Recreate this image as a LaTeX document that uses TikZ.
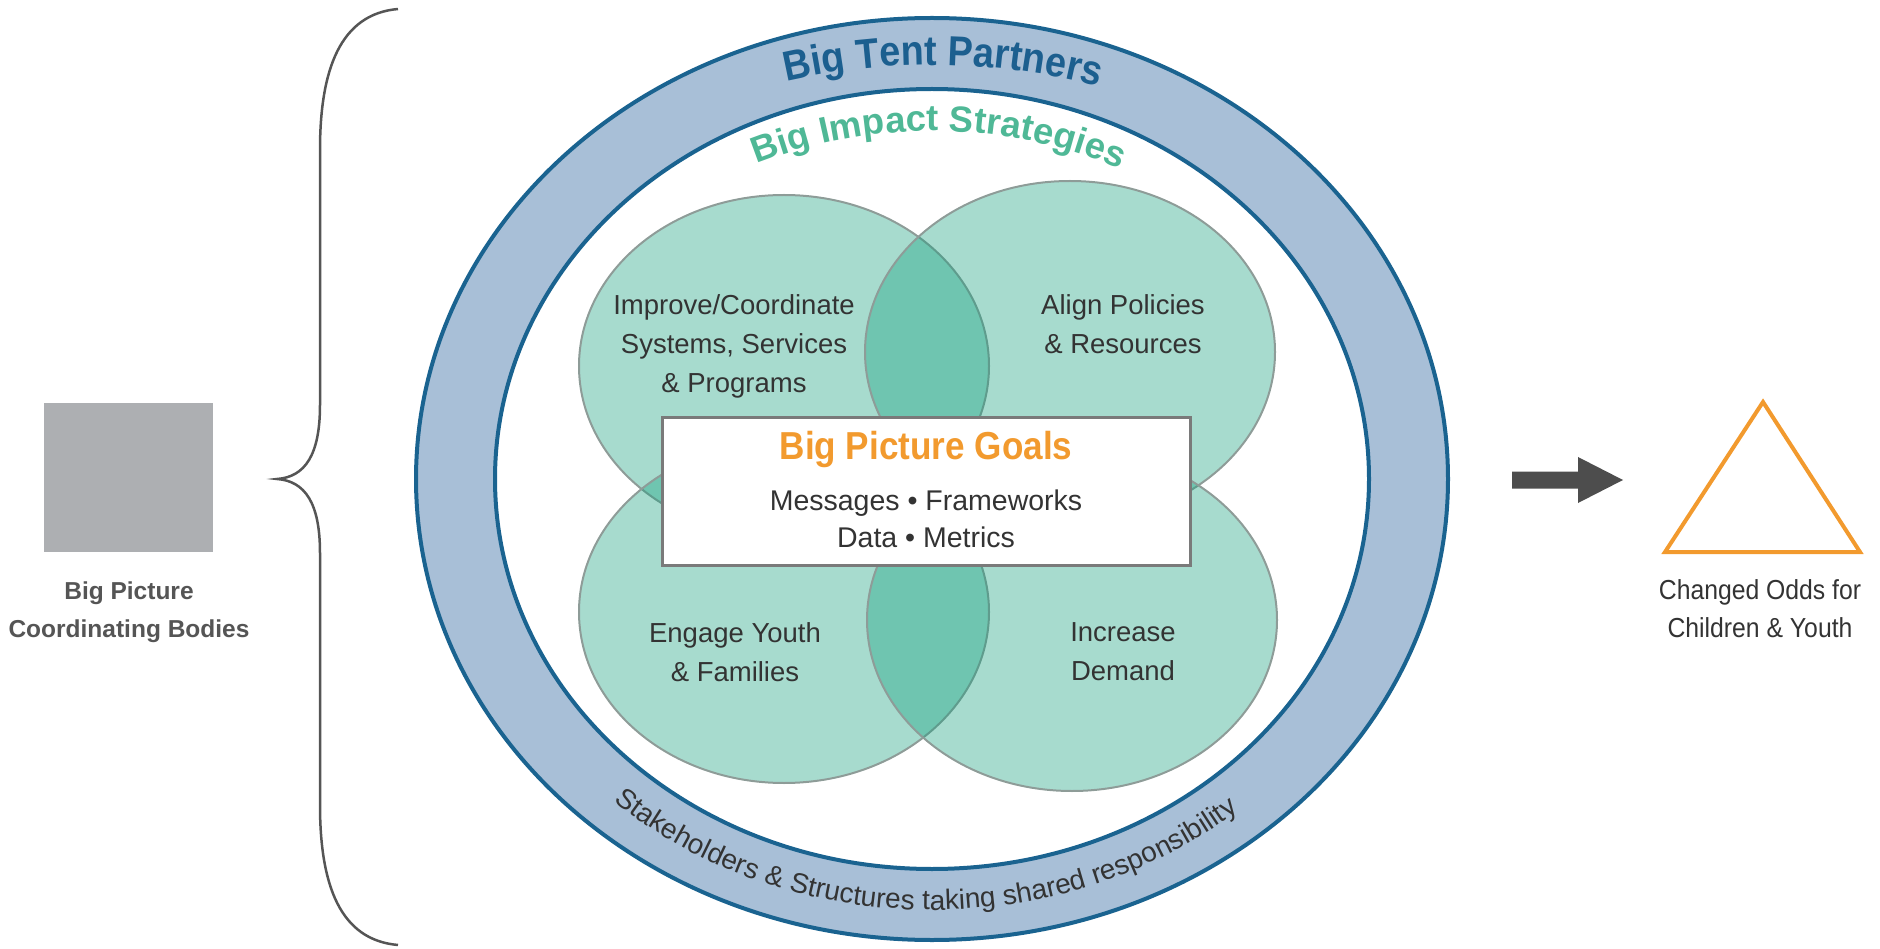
\documentclass[tikz,border=0pt]{standalone}
\usepackage{fontspec}
\setmainfont{Liberation Sans}
\newfontfamily\narrowfont{Liberation Sans}[FakeStretch=0.9]
\usetikzlibrary{decorations.text,shapes.geometric}
\definecolor{ringfill}{HTML}{A8BFD7}
\definecolor{ringline}{HTML}{1A6390}
\definecolor{tentblue}{HTML}{1C5F8F}
\definecolor{stratgreen}{HTML}{4FB896}
\definecolor{venn}{RGB}{15,158,123}
\definecolor{vennline}{HTML}{8E9C98}
\definecolor{boxline}{HTML}{7A7A7A}
\definecolor{goalorange}{HTML}{F29A2E}
\definecolor{txt}{HTML}{333333}
\definecolor{bodygray}{HTML}{ADAFB2}
\definecolor{arrowgray}{HTML}{4D4D4D}
\definecolor{bracegray}{HTML}{555555}
\newcommand\fsz[2]{\fontsize{#1}{#2}\selectfont}
\begin{document}
\begin{tikzpicture}[x=1pt,y=-1pt,
  vennc/.style={ellipse, minimum width=410, minimum height=342, inner sep=0,
    fill=venn, fill opacity=0.37, draw=vennline, line width=2pt},
  venntext/.style={text=txt, align=center, font=\fsz{27.5}{39}},
  ringedge/.style={draw=ringline, line width=4pt},
]
\useasboundingbox (0,0) rectangle (1880,949);

% ring
\fill[ringfill, even odd rule] (932,479) ellipse [x radius=516pt, y radius=461pt]
  (932,479) ellipse [x radius=437pt, y radius=390pt];
\draw[ringedge] (932,479) ellipse [x radius=516pt, y radius=461pt];
\draw[ringedge] (932,479) ellipse [x radius=437pt, y radius=390pt];

% ring texts
\path[shift={(932,479)}, decorate, decoration={text along path, text align=center,
  text={|\narrowfont\bfseries\fsz{42}{48}\color{tentblue}|Big Tent Partners}}]
  (125:521pt and 414pt) arc [start angle=125, end angle=52.4, x radius=521pt, y radius=414pt];
\path[shift={(932,479)}, decorate, decoration={text along path, text align=center,
  text={|\bfseries\fsz{36.5}{44}\color{stratgreen}|Big Impact Strategies}}]
  (130:412pt and 348pt) arc [start angle=130, end angle=48, x radius=412pt, y radius=348pt];
\path[shift={(932,479)}, decorate, decoration={text along path, text align=center,
  text={|\fsz{28}{34}\color{txt}|Stakeholders {\&} Structures taking shared responsibility}}]
  (215:480pt and 431pt) arc [start angle=215, end angle=323, x radius=480pt, y radius=431pt];

% venn circles
\node[vennc] (tl) at (784,366) {};
\node[vennc] (tr) at (1070,352) {};
\node[vennc] (bl) at (784,612) {};
\node[vennc] (br) at (1072,620) {};

\node[venntext] (tlt) at (734,346) {Improve/Coordinate\\Systems, Services\\\& Programs};
\node[venntext] (trt) at (1123,324) {Align Policies\\\& Resources};
\node[venntext] (blt) at (735,652) {Engage Youth\\\& Families};
\node[venntext] (brt) at (1123,652) {Increase\\Demand};

% goals box
\node[draw=boxline, line width=3pt, fill=white, minimum width=528, minimum height=147, inner sep=0] (goals) at (926,491.5) {};
\node[text=goalorange, font=\narrowfont\bfseries\fsz{39}{44}] (goalt) at (926,450) {Big Picture Goals};
\node[text=txt, align=center, font=\fsz{28.5}{37}] (goalb) at (926,519) {Messages • Frameworks\\Data • Metrics};

% left
\node[fill=bodygray, minimum width=169, minimum height=149, inner sep=0] (cb) at (128.5,477.5) {};
\node[text=bracegray, align=center, font=\bfseries\fsz{24.5}{38}] (cbt) at (129,612) {Big Picture\\Coordinating Bodies};
\draw[bracegray, line width=2.5pt] (398,9) .. controls (340,14) and (320,70) .. (320,150)
  -- (320,405) .. controls (320,455) and (305,477) .. (277,479)
  .. controls (305,481) and (320,503) .. (320,553)
  -- (320,805) .. controls (320,885) and (340,940) .. (398,945);

% arrow
\fill[arrowgray] (1512,471.5) -- (1578,471.5) -- (1578,457) -- (1623,480) -- (1578,503) -- (1578,488.5) -- (1512,488.5) -- cycle;

% triangle
\draw[goalorange, line width=4pt] (1763,402) -- (1860,552) -- (1665,552) -- cycle;
\node[text=txt, align=center, font=\narrowfont\fsz{27.5}{38}] (odds) at (1760,609) {Changed Odds for\\Children \& Youth};
\end{tikzpicture}
\end{document}
